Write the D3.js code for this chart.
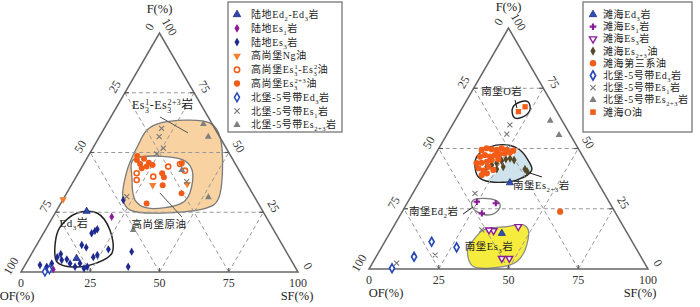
<!DOCTYPE html>
<html>
<head>
<meta charset="utf-8">
<script src="https://cdn.jsdelivr.net/npm/d3@7"></script>
<style>
  body { margin: 0; background: #fff; }
  svg { display: block; }
</style>
</head>
<body>
<div id="chart"></div>
<script>
// ---- data: every point is [SF, F] in percent (OF = 100 - SF - F) ----

// left diagram (陆地 / 高尚堡 / 北堡)
const L_luEd   = [[11.0, 25.4], [17.2, 5.7]];
const L_luEs1  = [[21.2, 23.1], [11.1, 1.1]];
const L_luEs3  = [[5.4, 2.9], [8.2, 2.2], [9.3, 3.6], [10.0, 6.2], [10.6, 7.5], [13.9, 5.3], [15.9, 3.6],
                  [18.4, 2.2], [19.5, 3.6], [22.0, 1.5], [22.8, 2.2], [23.0, 6.2], [24.0, 7.1], [16.3, 11.3],
                  [18.4, 10.3], [17.4, 16.2], [18.1, 17.2], [18.6, 17.9], [26.8, 9.5], [35.7, 8.5],
                  [37.6, 2.2], [21.9, 30.1], [12.2, 5.0]];
const L_gNg    = [[0, 30.4], [41.6, 36.8], [29.4, 36.3]];
const L_gEs3a  = [[21.1, 41.3], [22.5, 38.5], [27.8, 39.9], [31.1, 44.1], [34.8, 45.2], [38.0, 42.4]];
const L_gEs3b  = [[18.4, 46.9], [20.4, 45.2], [20.7, 47.4], [23.3, 44.1], [23.3, 45.7], [25.1, 44.8],
                  [30.3, 41.3], [31.8, 39.6], [33.0, 36.3], [35.3, 45.5], [31.0, 28.7], [41.5, 32.9],
                  [17.7, 48.5], [21.9, 43.4]];
const L_nbEd3  = [[8.6, 0.1], [9.7, 1.1]];
const L_nbEs1  = [[20.7, 60.1], [21.6, 56.6], [25.5, 51.8], [22.4, 31.5], [40.9, 37.8], [24.3, 49.4]];
const L_nbEs23 = [[34.9, 61.9], [39.3, 56.6], [52.0, 31.3], [36.7, 42.7], [31.7, 17.6]];

const L_zoneEs3 = [[19.0, 62.3], [15.8, 59.4], [15.8, 52.3], [17.0, 42.7], [21.8, 30.1], [26.5, 25.9],
                   [53.7, 26.8], [56.0, 30.1], [43.6, 56.5], [37.1, 62.3]];
const L_zoneOil = [[17.0, 46.9], [35.0, 46.9], [40.4, 42.7], [44.4, 33.1], [43.7, 28.9], [32.1, 26.8],
                   [26.1, 30.1], [20.2, 39.7]];
const L_zoneEd3 = [[4.7, 18.8], [7.9, 24.7], [15.1, 24.7], [23.3, 17.6], [28.9, 7.9], [25.5, 3.8],
                   [17.7, 2.1], [10.9, 4.2], [6.3, 12.1]];

// right diagram (滩海 / 南堡 / 北堡)
const R_thEd3  = [[32.6, 35.8], [40.2, 14.8]];
const R_thEs1  = [[24.7, 27.9], [28.9, 23.1], [31.8, 27.3]];
const R_thEs3  = [[36.7, 15.9], [44.7, 17.6], [45.4, 4.4], [48.1, 4.4], [34.9, 16.2]];
const R_thOil23 = [[21.0, 42.4], [22.4, 43.2], [23.8, 43.9], [25.1, 44.9], [26.3, 45.5], [27.6, 45.9],
                   [29.4, 45.2], [26.9, 42.4], [25.1, 41.4], [35.2, 41.4], [36.5, 40.4]];
const R_thOil  = [[15.7, 49.4], [17.1, 50.1], [19.1, 49.7], [21.1, 49.4], [22.5, 50.1], [24.7, 49.4],
                  [26.4, 48.3], [16.5, 46.6], [17.9, 47.3], [20.1, 46.6], [21.5, 47.3], [23.1, 47.7],
                  [24.7, 48.0], [16.6, 43.9], [18.3, 44.1], [20.0, 44.5], [21.4, 45.2], [23.6, 45.5],
                  [18.3, 41.8], [20.6, 40.8], [21.6, 42.4], [20.9, 39.0], [22.4, 39.7], [24.0, 41.1],
                  [27.2, 49.1], [56.6, 23.8]];
const R_nbEd3  = [[16.8, 11.3], [26.9, 9.0], [13.6, 5.1], [8.1, 0.3]];
const R_nbEs1  = [[20.6, 59.8], [21.4, 56.0], [22.3, 31.4], [32.3, 16.2], [20.8, 5.8], [8.7, 2.4]];
const R_nbEs23 = [[34.2, 61.5], [40.3, 55.6]];
const R_thO    = [[20.9, 65.3], [22.3, 67.3]];

const R_zoneO    = [[18.0, 67.2], [19.5, 69.3], [22.4, 69.3], [24.7, 66.0], [23.6, 63.1], [20.9, 62.7], [19.0, 64.7]];
const R_zoneBlob = [[15.3, 46.6], [18.1, 50.7], [23.6, 51.5], [29.4, 49.4], [34.4, 45.2], [37.8, 41.1],
                    [34.5, 36.9], [25.3, 36.2], [20.0, 38.3], [16.8, 42.4]];
const R_zoneEs23 = [[24.2, 36.9], [26.4, 41.1], [28.0, 46.5], [29.4, 49.4], [34.4, 45.2], [37.8, 41.1],
                    [34.5, 36.9], [29.0, 36.1]];
const R_zoneEd2  = [[23.1, 28.6], [30.9, 28.6], [33.7, 26.6], [33.9, 23.8], [31.0, 22.4], [26.7, 23.8], [23.8, 26.1]];
const R_zoneEs3  = [[31.4, 12.0], [32.9, 16.2], [40.6, 17.6], [46.2, 18.3], [49.0, 16.2], [52.0, 7.9],
                    [51.4, 3.0], [47.6, 1.0], [36.9, 1.0], [33.4, 4.4], [31.0, 9.3]];

const ticks = [0, 25, 50, 75, 100];
const grid = [25, 50, 75];

// ---- drawing ----
const W = 700, H = 307;
const SERIF = "'Liberation Serif','Noto Sans CJK SC',serif";
const ORANGE = "#f25c19";

const svg = d3.select("#chart").append("svg").attr("width", W).attr("height", H);

// append text with _{sub} and ^{sup} markup
function rich(sel, str, fs) {
  const re = /([_^])\{([^}]*)\}|([^_^]+)/g;
  let m, off = 0, lastSub = 0;
  while ((m = re.exec(str))) {
    let shift = 0, size = null, dx = 0, txt;
    if (m[3]) { txt = m[3]; lastSub = 0; }
    else if (m[1] === "_") { txt = m[2]; shift = fs * 0.3; size = fs * 0.65; lastSub = txt.length; }
    else {
      txt = m[2]; shift = -fs * 0.38; size = fs * 0.65;
      if (lastSub) dx = -lastSub * fs * 0.65 * 0.52;
      lastSub = 0;
    }
    const t = sel.append("tspan").attr("dy", shift - off).text(txt);
    if (size) t.attr("font-size", size);
    if (dx) t.attr("dx", dx);
    off = shift;
  }
}

const shapes = {
  tri: d3.symbolTriangle, dia: d3.symbolDiamond, circ: d3.symbolCircle,
  x: d3.symbolX, cross: d3.symbolCross, sq: d3.symbolSquare
};

function marker(g, st, x, y, scale = 1) {
  g.append("path")
    .attr("d", d3.symbol().type(shapes[st.type]).size(st.size * scale)())
    .attr("transform", `translate(${x},${y}) rotate(${st.rot || 0})`)
    .attr("fill", st.fill || "none")
    .attr("stroke", st.stroke || "none")
    .attr("stroke-width", st.sw || 0.8);
}

const panels = [
  {
    left: 21, right: 298, bottom: 272, top: 33,
    ofX: 17, sfX: 297, fY: 13,
    legend: { x: 228, y: 2, w: 114, h: 130, y0: 14.5, dy: 13.8, mx: 237, tx: 251 },
    zones: [
      { pts: L_zoneEs3, fill: "#f8d3a1", stroke: "#7a7a7a", sw: 1.3 },
      { pts: L_zoneOil, fill: "#ffffff", stroke: "#7a7a7a", sw: 1.3 },
      { pts: L_zoneEd3, fill: "none", stroke: "#222", sw: 1.5 }
    ],
    series: [
      { name: "陆地Ed_{2}-Ed_{3}岩", data: L_luEd, st: { type: "tri", size: 22, fill: "#3046b0", stroke: "#1d2c80" } },
      { name: "陆地Es_{1}岩", data: L_luEs1, st: { type: "dia", size: 20, fill: "#8a1c9a" } },
      { name: "陆地Es_{3}岩", data: L_luEs3, st: { type: "dia", size: 20, fill: "#1f2a8e" } },
      { name: "高尚堡Ng油", data: L_gNg, st: { type: "tri", size: 24, fill: "#f47f30", rot: 180 } },
      { name: "高尚堡Es_{3}^{1}-Es_{3}^{2}油", data: L_gEs3a, st: { type: "circ", size: 20, fill: "#fff", stroke: ORANGE, sw: 1.6 } },
      { name: "高尚堡Es_{3}^{2+3}油", data: L_gEs3b, st: { type: "circ", size: 28, fill: ORANGE } },
      { name: "北堡-5号带Ed_{3}岩", data: L_nbEd3, st: { type: "dia", size: 20, fill: "#fff", stroke: "#2848b8", sw: 1.5 } },
      { name: "北堡-5号带Es_{1}岩", data: L_nbEs1, st: { type: "x", size: 18, stroke: "#777", sw: 1.1 } },
      { name: "北堡-5号带Es_{2+3}岩", data: L_nbEs23, st: { type: "tri", size: 20, fill: "#7f7f7f" } }
    ],
    labels: [
      { text: "Es_{3}^{1}-Es_{3}^{2+3}岩", at: [17.2, 68.0], fs: 12 },
      { text: "高尚堡原油", at: [40.5, 18.6], fs: 10.5 },
      { text: "Ed_{3}岩", at: [9.6, 19.0], fs: 11 }
    ],
    leaders: [
      { from: [17.7, 64.9], to: [31.2, 58.2], color: "#555" },
      { from: [33.6, 33.1], to: [46.6, 23.0], color: "#555" }
    ]
  },
  {
    left: 369, right: 648, bottom: 269, top: 28,
    ofX: 386, sfX: 640, fY: 11,
    legend: { x: 583, y: 2, w: 109, h: 130, y0: 14.5, dy: 12.2, mx: 593, tx: 603 },
    zones: [
      { pts: R_zoneO, fill: "#fff", stroke: "#222", sw: 1.4 },
      { pts: R_zoneEs23, fill: "#cfe3ed", stroke: "none", sw: 0 },
      { pts: R_zoneBlob, fill: "none", stroke: "#222", sw: 1.4 },
      { pts: R_zoneEd2, fill: "#fff", stroke: "#777", sw: 1.3 },
      { pts: R_zoneEs3, fill: "#f6ec3d", stroke: "#888", sw: 1.2 }
    ],
    series: [
      { name: "滩海Ed_{3}岩", data: R_thEd3, st: { type: "tri", size: 22, fill: "#3050b8", stroke: "#1d2c80" } },
      { name: "滩海Es_{1}岩", data: R_thEs1, st: { type: "cross", size: 22, fill: "#8a1c9a" } },
      { name: "滩海Es_{3}岩", data: R_thEs3, st: { type: "tri", size: 20, fill: "#fff", stroke: "#8a1c9a", sw: 1.4, rot: 180 } },
      { name: "滩海Es_{2+3}油", data: R_thOil23, st: { type: "dia", size: 22, fill: "#574829" } },
      { name: "滩海第三系油", data: R_thOil, st: { type: "circ", size: 30, fill: ORANGE } },
      { name: "北堡-5号带Ed_{3}岩", data: R_nbEd3, st: { type: "dia", size: 22, fill: "#fff", stroke: "#2848b8", sw: 1.7 } },
      { name: "北堡-5号带Es_{1}岩", data: R_nbEs1, st: { type: "x", size: 18, stroke: "#777", sw: 1.1 } },
      { name: "北堡-5号带Es_{2+3}岩", data: R_nbEs23, st: { type: "tri", size: 20, fill: "#7f7f7f" } },
      { name: "滩海O油", data: R_thO, st: { type: "sq", size: 28, fill: ORANGE } }
    ],
    labels: [
      { text: "南堡O岩", at: [11.6, 72.0], fs: 10.5 },
      { text: "南堡Es_{2+3}岩", at: [45.2, 33.2], fs: 10.5 },
      { text: "南堡Ed_{2}岩", at: [12.0, 22.4], fs: 10.5 },
      { text: "南堡Es_{3}岩", at: [39.0, 8.0], fs: 10.5 }
    ],
    leaders: [
      { from: [17.3, 70.1], to: [19.6, 66.8], color: "#222" },
      { from: [37.8, 39.8], to: [42.9, 38.2], color: "#222" },
      { from: [22.3, 22.8], to: [24.4, 25.7], color: "#222" }
    ]
  }
];

panels.forEach(p => {
  const x = d3.scaleLinear([0, 100], [p.left, p.right]);
  const y = d3.scaleLinear([0, 100], [p.bottom, p.top]);
  const proj = ([sf, f]) => [x(sf + f / 2), y(f)];
  const g = svg.append("g");

  // zones
  const zoneLine = d3.line().curve(d3.curveCatmullRomClosed.alpha(0.5));
  p.zones.forEach(z => {
    g.append("path")
      .attr("d", zoneLine(z.pts.map(proj)))
      .attr("fill", z.fill)
      .attr("stroke", z.stroke)
      .attr("stroke-width", z.sw);
  });

  // dashed grid
  const gridLines = [];
  grid.forEach(v => {
    gridLines.push([[0, v], [100 - v, v]]);       // constant F
    gridLines.push([[v, 0], [v, 100 - v]]);       // constant SF
    gridLines.push([[100 - v, 0], [0, 100 - v]]); // constant OF
  });
  g.append("g").selectAll("line").data(gridLines).join("line")
    .attr("x1", d => proj(d[0])[0]).attr("y1", d => proj(d[0])[1])
    .attr("x2", d => proj(d[1])[0]).attr("y2", d => proj(d[1])[1])
    .attr("stroke", "#999").attr("stroke-width", 1)
    .attr("stroke-dasharray", "4,3");

  // frame
  g.append("path")
    .attr("d", d3.line()([proj([0, 0]), proj([100, 0]), proj([0, 100])]) + "Z")
    .attr("fill", "none").attr("stroke", "#666").attr("stroke-width", 1.5);

  // ticks
  const tk = g.append("g").attr("stroke", "#555").attr("stroke-width", 1.2);
  grid.forEach(v => {
    let a = proj([0, 100 - v]); tk.append("line").attr("x1", a[0]).attr("y1", a[1]).attr("x2", a[0] + 4).attr("y2", a[1]);
    a = proj([100 - v, v]); tk.append("line").attr("x1", a[0]).attr("y1", a[1]).attr("x2", a[0] - 4).attr("y2", a[1]);
    a = proj([v, 0]); tk.append("line").attr("x1", a[0]).attr("y1", a[1]).attr("x2", a[0]).attr("y2", a[1] - 4);
  });

  // tick labels
  const tl = g.append("g").attr("font-family", SERIF).attr("font-size", 12).attr("fill", "#333")
    .attr("text-anchor", "middle").attr("dominant-baseline", "central");
  ticks.forEach(v => {
    // OF along the left edge
    let a = proj([0, 100 - v]);
    let px = a[0] - 10, py = a[1] - 6;
    tl.append("text").attr("transform", `translate(${px},${py}) rotate(-60)`).text(v);
    // F along the right edge
    a = proj([100 - v, v]);
    px = a[0] + 10; py = a[1] - 6;
    tl.append("text").attr("transform", `translate(${px},${py}) rotate(60)`).text(v);
    // SF along the base
    a = proj([v, 0]);
    tl.append("text").attr("x", a[0]).attr("y", a[1] + 11).text(v);
  });

  // axis titles
  const at = g.append("g").attr("font-family", SERIF).attr("font-size", 12.5).attr("fill", "#222")
    .attr("text-anchor", "middle");
  at.append("text").attr("x", proj([0, 100])[0]).attr("y", p.fY).text("F(%)");
  at.append("text").attr("x", p.ofX).attr("y", p.bottom + 28).text("OF(%)");
  at.append("text").attr("x", p.sfX).attr("y", p.bottom + 28).text("SF(%)");

  // leaders
  p.leaders.forEach(l => {
    const a = proj(l.from), b = proj(l.to);
    g.append("line").attr("x1", a[0]).attr("y1", a[1]).attr("x2", b[0]).attr("y2", b[1])
      .attr("stroke", l.color).attr("stroke-width", 1);
  });

  // points
  p.series.forEach(s => {
    s.data.forEach(d => {
      const [px, py] = proj(d);
      marker(g, s.st, px, py);
    });
  });

  // zone labels
  p.labels.forEach(l => {
    const [px, py] = proj(l.at);
    const t = g.append("text").attr("x", px).attr("y", py)
      .attr("font-family", SERIF).attr("font-size", l.fs).attr("fill", "#222")
      .attr("letter-spacing", 0.5).attr("text-anchor", "middle");
    rich(t, l.text, l.fs);
  });

  // legend
  const L = p.legend;
  const lg = g.append("g");
  lg.append("rect").attr("x", L.x).attr("y", L.y).attr("width", L.w).attr("height", L.h)
    .attr("fill", "#fff").attr("stroke", "#888").attr("stroke-width", 1.5);
  p.series.forEach((s, i) => {
    const yy = L.y + L.y0 + i * L.dy - L.y;
    marker(lg, s.st, L.mx, yy, 1.1);
    const t = lg.append("text").attr("x", L.tx).attr("y", yy + 3.5)
      .attr("font-family", SERIF).attr("font-size", 10).attr("fill", "#222")
      .attr("letter-spacing", 0.6);
    rich(t, s.name, 10);
  });
});
</script>
</body>
</html>
